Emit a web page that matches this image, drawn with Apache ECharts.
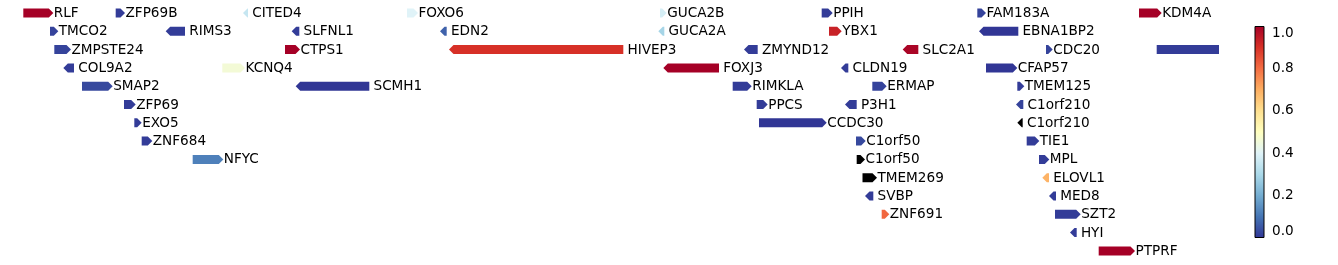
<!DOCTYPE html>
<html>
<head>
<meta charset="utf-8">
<script src="https://cdn.jsdelivr.net/npm/echarts@6/dist/echarts.min.js"></script>
<style>
  html, body { margin: 0; padding: 0; background: #fff; }
  #chart { width: 1338px; height: 265px; }
</style>
</head>
<body>
<div id="chart"></div>
<script>
// ---- data (positions in kb from region start, rows = stacking level) ----
const geneNames = [
  'RLF','ZFP69B','CITED4','FOXO6','GUCA2B','PPIH','FAM183A','KDM4A',
  'TMCO2','RIMS3','SLFNL1','EDN2','GUCA2A','YBX1','EBNA1BP2',
  'ZMPSTE24','CTPS1','HIVEP3','ZMYND12','SLC2A1','CDC20','',
  'COL9A2','KCNQ4','FOXJ3','CLDN19','CFAP57',
  'SMAP2','SCMH1','RIMKLA','ERMAP','TMEM125',
  'ZFP69','PPCS','P3H1','C1orf210',
  'EXO5','CCDC30','C1orf210',
  'ZNF684','C1orf50','TIE1',
  'NFYC','C1orf50','MPL',
  'TMEM269','ELOVL1',
  'SVBP','MED8',
  'ZNF691','SZT2',
  'HYI',
  'PTPRF'
];
const geneStarts = [
  23.3,115.7,243,407,660,821.7,977.3,1139,
  50,165.7,291.7,440,658.3,829,979,
  54.3,285,449,744,902.7,1046,1156.7,
  63.3,222.3,663.3,841,986,
  82,295.7,732.7,872.3,1017.3,
  124,756.7,845,1016,
  134.3,759,1017.3,
  141.7,856,1026.7,
  192.7,856.7,1039,
  862.5,1042.3,
  865,1049,
  881.7,1055,
  1070,
  1098.7
];
const geneEnds = [
  53.3,125,248,418,666.7,832.7,986,1161.7,
  58.3,185,299.3,446.7,664.3,841.7,1018.3,
  71,300,623.3,757.7,918.3,1052.7,1219,
  74,245,719,848.3,1017.3,
  112.7,369.3,751.7,886.7,1024.3,
  135.7,767.7,856.7,1023.3,
  141.7,826.7,1022.7,
  152.3,865.7,1039.3,
  223.3,865,1049.3,
  877,1049,
  873.3,1056,
  889.3,1080.7,
  1076.7,
  1135
];
const geneStrands = [
  '+','+','-','+','+','+','+','+',
  '+','-','-','-','-','+','-',
  '+','+','-','-','-','+','.',
  '-','+','-','-','+',
  '+','-','+','+','+',
  '+','+','-','-',
  '+','+','-',
  '+','+','+',
  '+','+','+',
  '+','-',
  '-','-',
  '+','+',
  '-',
  '+'
];
const geneRows = [
  0,0,0,0,0,0,0,0,
  1,1,1,1,1,1,1,
  2,2,2,2,2,2,2,
  3,3,3,3,3,
  4,4,4,4,4,
  5,5,5,5,
  6,6,6,
  7,7,7,
  8,8,8,
  9,9,
  10,10,
  11,11,
  12,
  13
];
const geneValues = [
  1.0,0.01,0.35,0.40,0.38,0.01,0.02,1.0,
  0.02,0.01,0.01,0.07,0.29,0.93,0.0,
  0.02,1.0,0.9,0.01,0.99,0.02,0.01,
  0.01,0.46,1.0,0.01,0.0,
  0.03,0.0,0.01,0.02,0.01,
  0.01,0.01,0.01,0.02,
  0.01,0.0,null,
  0.01,0.03,0.01,
  0.12,null,0.01,
  null,0.69,
  0.01,0.01,
  0.81,0.01,
  0.01,
  1.0
];
const colorbarTicks = [0, 0.2, 0.4, 0.6, 0.8, 1.0];
const cmapColors = ['#313695','#4575b4','#74add1','#abd9e9','#e0f3f8','#ffffbf',
                    '#fee090','#fdae61','#f46d43','#d73027','#a50026'];

// ---- build ----
const FONT = '13.6px "DejaVu Sans"';
const geneData = geneNames.map((n, i) => [geneStarts[i], geneEnds[i], geneRows[i],
  geneValues[i] == null ? '-' : geneValues[i], i]);

function renderGene(params, api) {
  const i = api.value(4);
  const s = api.coord([api.value(0), api.value(2)]);
  const e = api.coord([api.value(1), api.value(2)]);
  const x0 = s[0], x1 = e[0], yc = s[1];
  const h = 9, hh = h / 2;
  const tip = Math.min(4.5, x1 - x0);
  const strand = geneStrands[i];
  let pts;
  if (strand === '+') {
    pts = [[x0, yc - hh], [x1 - tip, yc - hh], [x1, yc], [x1 - tip, yc + hh], [x0, yc + hh]];
  } else if (strand === '-') {
    pts = [[x0 + tip, yc - hh], [x1, yc - hh], [x1, yc + hh], [x0 + tip, yc + hh], [x0, yc]];
  } else {
    pts = [[x0, yc - hh], [x1, yc - hh], [x1, yc + hh], [x0, yc + hh]];
  }
  const color = geneValues[i] == null ? '#000000' : api.visual('color');
  const children = [{ type: 'polygon', shape: { points: pts }, style: { fill: color } }];
  if (geneNames[i]) {
    children.push({
      type: 'text',
      style: {
        x: strand === '+' ? x1 + 0.5 : x1 + 4.2,
        y: yc + 0.5,
        text: geneNames[i],
        fill: '#000',
        font: FONT,
        align: 'left',
        verticalAlign: 'middle'
      }
    });
  }
  return { type: 'group', children };
}

function renderColorbar(params, api) {
  const tl = api.coord([0, 1]);
  const br = api.coord([1, 0]);
  const stops = cmapColors.map((c, k) => ({ offset: k / (cmapColors.length - 1), color: c }));
  return {
    type: 'rect',
    shape: { x: tl[0], y: tl[1], width: br[0] - tl[0], height: br[1] - tl[1] },
    style: {
      fill: new echarts.graphic.LinearGradient(0, 1, 0, 0, stops),
      stroke: '#000', lineWidth: 1
    }
  };
}

const chart = echarts.init(document.getElementById('chart'), null, { renderer: 'canvas' });
chart.setOption({
  animation: false,
  backgroundColor: '#ffffff',
  grid: [
    { left: 0, top: 3.85, width: 1240, height: 256.2 },
    { left: 1255, top: 26.5, width: 9, height: 211 }
  ],
  xAxis: [
    { type: 'value', gridIndex: 0, min: 0, max: 1240, show: false },
    { type: 'value', gridIndex: 1, min: 0, max: 1, show: false }
  ],
  yAxis: [
    { type: 'value', gridIndex: 0, min: -0.5, max: 13.5, inverse: true, show: false },
    {
      type: 'value', gridIndex: 1, min: 0, max: 1, interval: 0.2, position: 'right',
      axisLine: { show: true, lineStyle: { color: '#000', width: 1 } },
      axisTick: { show: true, inside: false, length: 3.5, lineStyle: { color: '#000', width: 1 } },
      splitLine: { show: false },
      axisLabel: {
        show: true, margin: 8, color: '#000', fontFamily: 'DejaVu Sans', fontSize: 13.6,
        formatter: v => v === 1 ? '{t|1.0}' : (v === 0 ? '{b|0.0}' : v.toFixed(1)),
        rich: {
          t: { padding: [14, 0, 0, 0], color: '#000', fontFamily: 'DejaVu Sans', fontSize: 13.6 },
          b: { padding: [0, 0, 13, 0], color: '#000', fontFamily: 'DejaVu Sans', fontSize: 13.6 }
        }
      }
    }
  ],
  visualMap: {
    show: false, type: 'continuous', seriesIndex: 0, dimension: 3,
    min: 0, max: 1, inRange: { color: cmapColors }
  },
  series: [
    {
      type: 'custom', xAxisIndex: 0, yAxisIndex: 0, clip: false,
      renderItem: renderGene, data: geneData,
      encode: { x: [0, 1], y: 2 }
    },
    {
      type: 'custom', xAxisIndex: 1, yAxisIndex: 1, clip: false,
      renderItem: renderColorbar, data: [[0, 0]], silent: true
    }
  ]
});
</script>
</body>
</html>
